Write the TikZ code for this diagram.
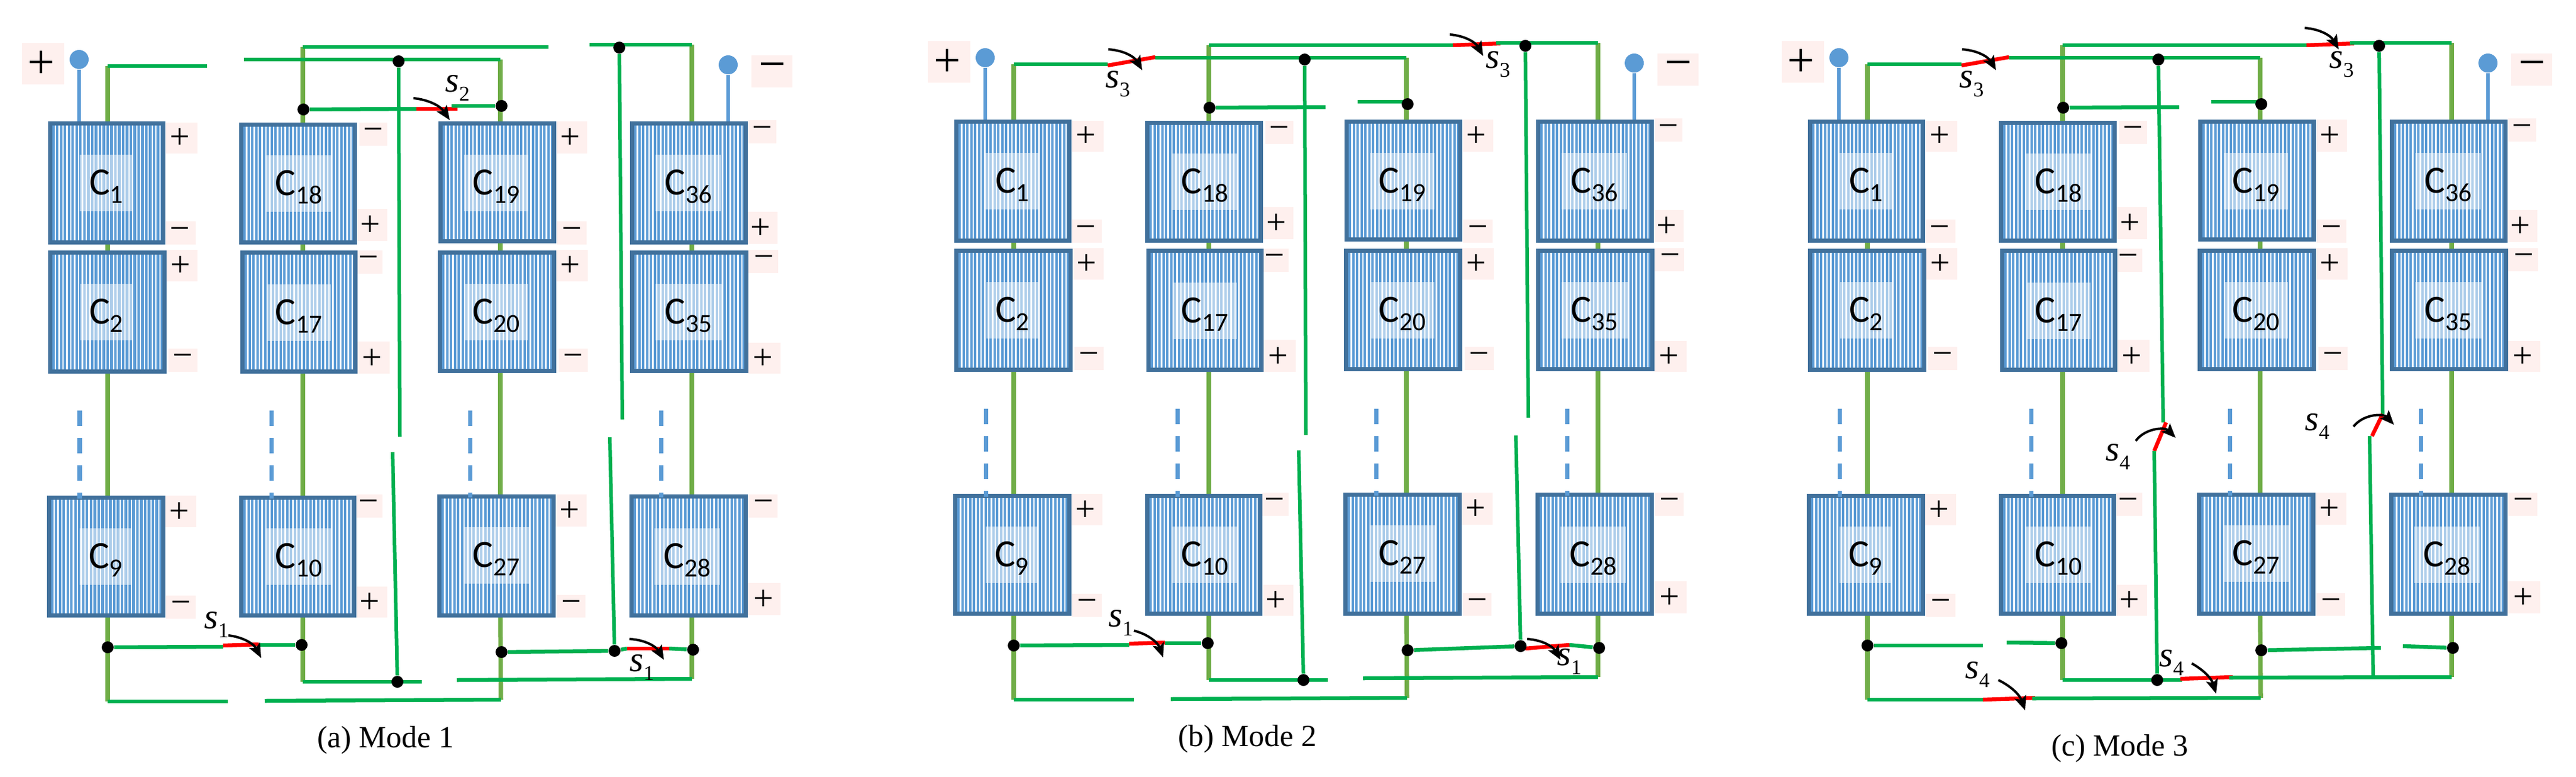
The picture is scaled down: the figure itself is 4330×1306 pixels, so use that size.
\documentclass[tikz,border=0pt]{standalone}
\usepackage{fontspec}
\setmainfont{Liberation Serif}
\newfontfamily\capf{Carlito}
\usetikzlibrary{arrows.meta}
\pgfdeclarelayer{fg}
\pgfsetlayers{main,fg}
\definecolor{oliveG}{HTML}{70AD47}
\definecolor{brightG}{HTML}{00B050}
\definecolor{blueT}{HTML}{5B9BD5}
\definecolor{blueB}{HTML}{41719C}
\definecolor{pinkB}{HTML}{FEF0EE}
\tikzset{
  greenw/.style={draw=brightG,line width=.065cm},
  thinw/.style={draw=brightG,line width=.06cm},
  olivew/.style={draw=oliveG,line width=.075cm},
  bluew/.style={draw=blueT,line width=.065cm},
  redw/.style={draw=red,line width=.065cm},
  dashw/.style={draw=blueT,line width=.07cm,dash pattern=on .26cm off .20cm},
  swarr/.style={draw=black,line width=.04cm,-{Stealth[length=.24cm,width=.2cm,inset=.05cm]}},
  dotn/.style={circle,fill=black,inner sep=0pt,minimum size=.2cm},
  termn/.style={circle,fill=blueT,inner sep=0pt,minimum size=.32cm},
  pinkbg/.style={fill=pinkB},
  veil/.style={fill=white,fill opacity=.5},
  celltxt/.style={inner sep=0pt,font=\capf},
  polsym/.style={inner sep=0pt,font=\fontsize{17}{17}\selectfont},
  polbig/.style={inner sep=0pt,font=\fontsize{23}{23}\selectfont},
  swlab/.style={inner sep=0pt},
  caplab/.style={inner sep=0pt,font=\fontsize{14.7}{16}\selectfont},
  cellbox/.style={draw=blueB,line width=.07cm,fill=white,inner sep=0pt,
    path picture={
      \foreach \i in {0,...,34}{
        \draw[blueT,line width=.04cm]
          ([xshift={(5.5+6.5*\i)*0.01cm}]path picture bounding box.south west) --
          ([xshift={(5.5+6.5*\i)*0.01cm}]path picture bounding box.north west);
      }
    }},
}
\newcount\polcnt
\newcommand{\pt}[2]{\coordinate (\m#1) at (#2);}
\newcommand{\wire}[3]{\draw[#1] (\m#2) -- (\m#3);}
\newcommand{\pplus}{+}
\newcommand{\pminus}{\vphantom{+}−}
\newcommand{\pol}[7]{%
  \global\advance\polcnt by 1
  \fill[pinkbg] (#1,#2) rectangle (#3,#4);
  \node[polsym] (pol\the\polcnt) at (#5,#6) {#7};
}
\newcommand{\capname}[1]{{\fontsize{18.5}{18.5}\selectfont C}\raisebox{-4pt}{\fontsize{12.5}{12.5}\selectfont #1}}
\newcommand{\swl}[1]{{\fontsize{17}{17}\selectfont\itshape s}\raisebox{-4.3pt}{\fontsize{10}{10}\selectfont #1}}
\newcommand{\capcell}[9]{%
  \pgfmathsetmacro{\cx}{(#2+#4)/2}\pgfmathsetmacro{\cy}{(#3+#5)/2}%
  \pgfmathsetmacro{\cw}{(#4-#2-7)*0.01}\pgfmathsetmacro{\ch}{(#5-#3-7)*0.01}%
  \node[cellbox,minimum width=\cw cm,minimum height=\ch cm] (\m#1) at (\cx,\cy) {};
  \fill[veil] (#6,#8) rectangle (#7,{#8+95});
  \pgfmathsetmacro{\tx}{(#6+#7)/2}\pgfmathsetmacro{\ty}{#8+53.5}%
  \node[celltxt] (\m#1t) at (\tx,\ty) {\capname{#9}};
}
\newcommand{\colwire}[4]{%
  \draw[olivew] (\m u#1) -- (\m u#1 |- \m#2.north);
  \draw[olivew] (\m#2.south -| \m u#1) -- (\m#3.north -| \m u#1);
  \draw[olivew] (\m#3.south -| \m u#1) -- (\m#4.north -| \m u#1);
  \draw[olivew] (\m#4.south -| \m u#1) -- (\m v#1);
}
\newcommand{\swcurve}[4]{%
  \coordinate (\m#1a) at (#2); \coordinate (\m#1b) at (#3);
  \draw[swarr] (\m#1a) to[bend left=#4] (\m#1b);
}
\newcommand{\swname}[3]{\node[swlab] (\m#1) at (#2) {\swl{#3}};}
% parts shared by the three modes
\newcommand{\commonpart}{%
  \pt{uA}{181,111}\pt{uB}{509,79}\pt{uC}{841,100}\pt{uD}{1163,75}
  \pt{vA}{181,1179}\pt{vB}{509,1146}\pt{vC}{842,1176}\pt{vD}{1163,1141}
  \begin{pgfonlayer}{fg}
    \node[dotn] (\m dTa) at (670,103) {};
    \node[dotn] (\m dTb) at (1041,80) {};
    \node[dotn] (\m dA) at (181,1088) {};
    \node[dotn] (\m dB) at (507,1084) {};
    \node[dotn] (\m dC) at (843,1096) {};
    \node[dotn] (\m dD) at (1165,1092) {};
    \node[dotn] (\m dMa) at (510,184) {};
    \node[dotn] (\m dMb) at (843,178) {};
    \node[dotn] (\m dL) at (668,1146) {};
  \end{pgfonlayer}
  % polarity marks
  \fill[pinkbg] (37,72) rectangle (108,142);
  \node[polbig] (\m pP) at (69,109) {\pplus};
  \fill[pinkbg] (1263,93) rectangle (1332,147);
  \node[polbig] (\m pM) at (1298,112) {\pminus};
  \pol{279}{206}{332}{258}{302}{233}{\pplus}
  \pol{279}{372}{329}{411}{302}{387}{\pminus}
  \pol{280}{420}{332}{473}{303}{448}{\pplus}
  \pol{283}{586}{332}{625}{307}{600}{\pminus}
  \pol{278}{833}{330}{886}{301}{862}{\pplus}
  \pol{279}{1001}{329}{1040}{304}{1015}{\pminus}
  \pol{604}{206}{651}{245}{627}{220}{\pminus}
  \pol{600}{351}{651}{405}{622}{380}{\pplus}
  \pol{595}{421}{643}{460}{619}{435}{\pminus}
  \pol{601}{574}{655}{628}{625}{604}{\pplus}
  \pol{599}{831}{643}{870}{619}{845}{\pminus}
  \pol{600}{986}{651}{1038}{621}{1014}{\pplus}
  \pol{936}{204}{987}{258}{958}{233}{\pplus}
  \pol{936}{372}{986}{411}{961}{387}{\pminus}
  \pol{935}{420}{988}{473}{958}{448}{\pplus}
  \pol{939}{586}{988}{625}{963}{600}{\pminus}
  \pol{934}{831}{986}{885}{957}{860}{\pplus}
  \pol{936}{1000}{984}{1038}{960}{1014}{\pminus}
  \pol{1258}{202}{1305}{241}{1281}{217}{\pminus}
  \pol{1257}{356}{1307}{410}{1278}{385}{\pplus}
  \pol{1258}{420}{1308}{459}{1284}{434}{\pminus}
  \pol{1258}{576}{1312}{628}{1282}{604}{\pplus}
  \pol{1258}{831}{1307}{870}{1283}{845}{\pminus}
  \pol{1257}{980}{1312}{1034}{1283}{1009}{\pplus}
  % capacitor cells
  \capcell{c1}{81}{204}{278}{411}{134}{223}{260}{1}
  \capcell{c2}{81}{421}{280}{628}{135}{222}{477}{2}
  \capcell{c9}{79}{833}{278}{1038}{134}{221}{888}{9}
  \capcell{c18}{402}{206}{600}{411}{448}{556}{261}{18}
  \capcell{c17}{404}{421}{601}{628}{448}{556}{478}{17}
  \capcell{c10}{402}{833}{599}{1038}{448}{556}{888}{10}
  \capcell{c19}{737}{204}{935}{409}{780}{888}{260}{19}
  \capcell{c20}{736}{421}{935}{627}{780}{888}{477}{20}
  \capcell{c27}{735}{831}{934}{1038}{779}{890}{886}{27}
  \capcell{c36}{1059}{204}{1257}{411}{1102}{1212}{260}{36}
  \capcell{c35}{1059}{421}{1258}{627}{1102}{1213}{477}{35}
  \capcell{c28}{1058}{831}{1257}{1038}{1100}{1210}{888}{28}
  % terminals
  \node[termn] (\m tP) at (133,100) {};
  \node[termn] (\m tM) at (1224,109) {};
  \draw[bluew] (\m tP) -- (\m tP |- \m c1.north);
  \draw[bluew] (\m tM) -- (\m tM |- \m c36.north);
  % string wires
  \colwire{A}{c1}{c2}{c9}
  \colwire{B}{c18}{c17}{c10}
  \colwire{C}{c19}{c20}{c27}
  \colwire{D}{c36}{c35}{c28}
  % elided cells
  \pt{eA}{134,690}\pt{eB}{456,690}\pt{eC}{790,690}\pt{eD}{1111,690}
  \draw[dashw] (\m eA) -- ([yshift=-.05cm]\m eA |- \m c9.north);
  \draw[dashw] (\m eB) -- ([yshift=-.05cm]\m eB |- \m c10.north);
  \draw[dashw] (\m eC) -- ([yshift=-.05cm]\m eC |- \m c27.north);
  \draw[dashw] (\m eD) -- ([yshift=-.05cm]\m eD |- \m c28.north);
}
% top of modes 2 and 3
\newcommand{\toptwo}{%
  \pt{ga}{339,111}\wire{greenw}{uA}{ga}
  \pt{ra}{339,113}\pt{rb}{419,99}\wire{redw}{ra}{rb}
  \pt{gb}{419,100}\wire{greenw}{gb}{uC}
  \pt{gc}{919,79}\wire{greenw}{uB}{gc}
  \pt{rc}{919,79}\pt{rd}{999,76}\wire{redw}{rc}{rd}
  \pt{gd}{992,75}\wire{greenw}{gd}{uD}
  \pt{ge}{705,183}\wire{greenw}{dMa}{ge}
  \pt{gf}{759,174}\pt{gg}{841,174}\wire{greenw}{gf}{gg}
  \swcurve{ae}{340,86}{397,121}{28}
  \swname{se}{356,144}{3}
}
% bottom and long verticals of modes 1 and 2
\newcommand{\lowone}{%
  \pt{ha}{383,1179}\wire{greenw}{vA}{ha}
  \pt{hb}{445,1178}\wire{greenw}{hb}{vC}
  \pt{hc}{709,1146}\wire{greenw}{vB}{hc}
  \pt{hd}{768,1143}\wire{greenw}{hd}{vD}
  \pt{he}{375,1087}\wire{greenw}{dA}{he}
  \pt{re}{375,1085}\pt{rf}{435,1083}\wire{redw}{re}{rf}
  \pt{hf}{435,1084}\wire{greenw}{hf}{dB}
  \pt{ka}{672,734}\wire{thinw}{dTa}{ka}
  \pt{kb}{660,760}\wire{thinw}{kb}{dL}
  \pt{kc}{1046,705}\wire{thinw}{dTb}{kc}
  \pt{kd}{1025,735}\wire{thinw}{kd}{dR}
  \wire{greenw}{dC}{dR}
}
\begin{document}
\begin{tikzpicture}[x=0.01cm,y=-0.01cm]
\useasboundingbox (0,0) rectangle (4330,1306);
% ---------- Mode 1 ----------
\begin{scope}
  \def\m{a}
  \commonpart
  \begin{pgfonlayer}{fg}\node[dotn] (\m dR) at (1033,1094) {};\end{pgfonlayer}
  \lowone
  \pt{ga}{348,111}\wire{greenw}{uA}{ga}
  \pt{gb}{410,100}\wire{greenw}{gb}{uC}
  \pt{gc}{922,79}\wire{greenw}{uB}{gc}
  \pt{gd}{991,75}\wire{greenw}{gd}{uD}
  \pt{ge}{700,183}\wire{greenw}{dMa}{ge}
  \pt{gf}{769,183}\wire{redw}{ge}{gf}
  \pt{gg}{759,178}\wire{greenw}{gg}{dMb}
  \pt{rg}{1054,1090}\pt{rh}{1125,1090}\wire{greenw}{dR}{rg}
  \wire{greenw}{rh}{dD}
  \wire{redw}{rg}{rh}
  \swcurve{aa}{695,165}{756,202}{25}
  \swname{sa}{769,148}{2}
  \swcurve{ab}{384,1068}{439,1106}{28}
  \swname{sb}{364,1050}{1}
  \swcurve{ac}{1058,1074}{1116,1109}{28}
  \swname{sc}{1079,1122}{1}
\end{scope}
% ---------- Mode 2 ----------
\begin{scope}[shift={(1523,-3)}]
  \def\m{b}
  \commonpart
  \begin{pgfonlayer}{fg}\node[dotn] (\m dR) at (1033,1089) {};\end{pgfonlayer}
  \toptwo
  \lowone
  \pt{rg}{1041,1093}\pt{rh}{1115,1087}
  \wire{greenw}{rh}{dD}
  \wire{redw}{rg}{rh}
  \swcurve{af}{914,61}{970,97}{28}
  \swname{sf}{995,111}{3}
  \swcurve{ab}{383,1063}{432,1108}{28}
  \swname{sb}{361,1050}{1}
  \swcurve{ac}{1044,1077}{1100,1112}{28}
  \swname{sc}{1115,1115}{1}
\end{scope}
% ---------- Mode 3 ----------
\begin{scope}[shift={(2958,-3)}]
  \def\m{c}
  \commonpart
  \toptwo
  \swcurve{af}{916,50}{973,86}{28}
  \swname{sf}{978,111}{3}
  % first long vertical with its switch
  \pt{ka}{678,713}\wire{thinw}{dTa}{ka}
  \pt{ra}{683,713}\pt{rb}{663,761}\wire{redw}{ra}{rb}
  \pt{kb}{663,761}\wire{thinw}{kb}{dL}
  % second long vertical with its switch
  \pt{kc}{1047,699}\wire{thinw}{dTb}{kc}
  \pt{rc}{1047,699}\pt{rd}{1029,736}\wire{redw}{rc}{rd}
  \pt{kd}{1025,736}\pt{ke}{1031,1141}\wire{thinw}{kd}{ke}
  % bottom wires
  \pt{ha}{375,1088}\wire{greenw}{dA}{ha}
  \pt{hb}{415,1083}\wire{greenw}{hb}{dB}
  \pt{hc}{710,1146}\wire{greenw}{vB}{hc}
  \pt{re}{707,1144}\pt{rf}{795,1141}\wire{redw}{re}{rf}
  \pt{hd}{789,1142}\wire{greenw}{hd}{vD}
  \pt{he}{380,1179}\wire{greenw}{vA}{he}
  \pt{rg}{375,1179}\pt{rh}{463,1176}\wire{redw}{rg}{rh}
  \pt{hf}{458,1177}\wire{greenw}{hf}{vC}
  \pt{hg}{1044,1092}\wire{greenw}{dC}{hg}
  \pt{hh}{1081,1089}\wire{greenw}{hh}{dD}
  % switch arrows and names
  \swcurve{ag}{632,744}{699,739}{50}
  \swname{sg}{602,771}{4}
  \swcurve{ah}{998,720}{1066,717}{50}
  \swname{sh}{937,720}{4}
  \swcurve{ai}{401,1146}{446,1197}{22}
  \swname{si}{366,1137}{4}
  \swcurve{aj}{726,1118}{767,1169}{22}
  \swname{sj}{692,1117}{4}
\end{scope}
% captions
\node[caplab] (capa) at (648,1244) {(a) Mode 1};
\node[caplab] (capb) at (2097,1242) {(b) Mode 2};
\node[caplab] (capc) at (3563,1258) {(c) Mode 3};
\end{tikzpicture}
\end{document}
